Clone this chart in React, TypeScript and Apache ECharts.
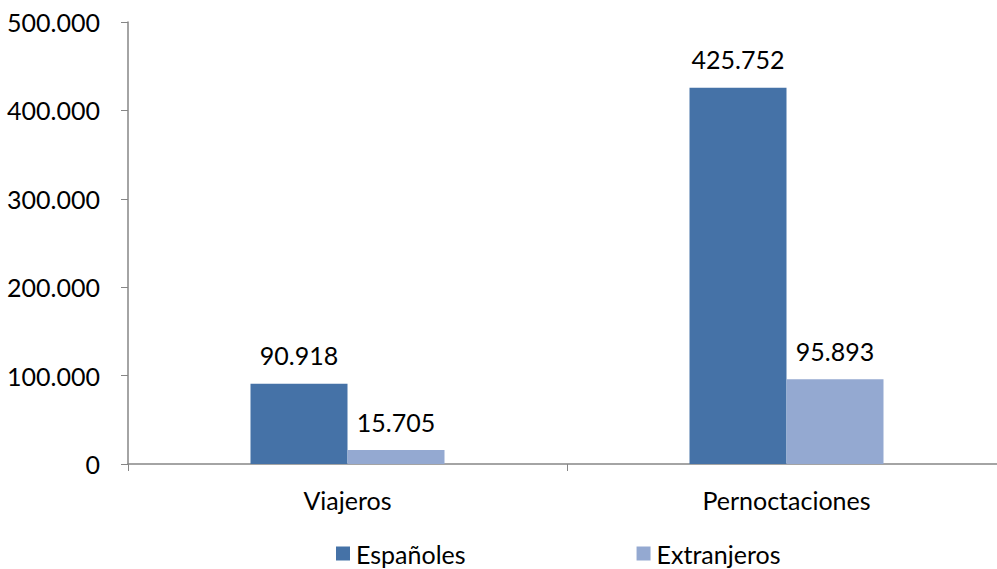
import React, { useEffect, useRef } from "react";
import * as echarts from "echarts";

const categories = ["Viajeros", "Pernoctaciones"];
const espanoles = [90918, 425752];
const extranjeros = [15705, 95893];
const seriesNames = ["Españoles", "Extranjeros"];

const fmt = (v: number) => {
  const s = Math.round(v).toString();
  return s.replace(/\B(?=(\d{3})+(?!\d))/g, ".");
};

const FONT = "Lato, 'Open Sans', sans-serif";
const FS = 25;

export default function App() {
  const ref = useRef<HTMLDivElement>(null);
  useEffect(() => {
    if (!ref.current) return;
    const chart = echarts.init(ref.current, null, { renderer: "svg" });
    chart.setOption({
      animation: false,
      textStyle: { fontFamily: FONT },
      grid: { left: 128, width: 878, top: 22, bottom: 105 },
      legend: {
        bottom: 3,
        left: 336,
        padding: 0,
        itemWidth: 14,
        itemHeight: 14,
        itemGap: 171,
        icon: "rect",
        textStyle: { fontSize: FS, color: "#000", fontFamily: FONT, padding: [0, 0, 0, 1] },
        data: seriesNames,
      },
      xAxis: {
        type: "category",
        data: categories,
        axisLine: { lineStyle: { color: "#868686", width: 1.5 } },
        axisTick: { show: true, length: 7, lineStyle: { color: "#868686" } },
        axisLabel: { fontSize: FS, color: "#000", margin: 23, fontFamily: FONT },
      },
      yAxis: {
        type: "value",
        min: 0,
        max: 500000,
        interval: 100000,
        axisLine: { show: true, lineStyle: { color: "#868686", width: 1.5 } },
        axisTick: { show: true, inside: false, length: 7, lineStyle: { color: "#868686" } },
        splitLine: { show: false },
        axisLabel: {
          fontSize: FS,
          color: "#000",
          margin: 28,
          fontFamily: FONT,
          formatter: (v: number) => fmt(v),
        },
      },
      series: [
        {
          name: seriesNames[0],
          type: "bar",
          data: espanoles,
          barWidth: 97,
          barGap: "0%",
          itemStyle: { color: "#4572A7" },
          label: {
            show: true,
            position: "top",
            distance: 16,
            fontSize: FS,
            color: "#000",
            fontFamily: FONT,
            formatter: (p: any) => fmt(p.value),
          },
        },
        {
          name: seriesNames[1],
          type: "bar",
          data: extranjeros,
          barWidth: 97,
          barGap: "0%",
          itemStyle: { color: "#94A9D1" },
          label: {
            show: true,
            position: "top",
            distance: 16,
            fontSize: FS,
            color: "#000",
            fontFamily: FONT,
            formatter: (p: any) => fmt(p.value),
          },
        },
      ],
    });
    return () => chart.dispose();
  }, []);
  return (
    <div style={{ width: 997, height: 569, position: "absolute", left: 0, top: 0, overflow: "hidden" }}>
      <div ref={ref} style={{ width: 1010, height: 569 }} />
    </div>
  );
}
